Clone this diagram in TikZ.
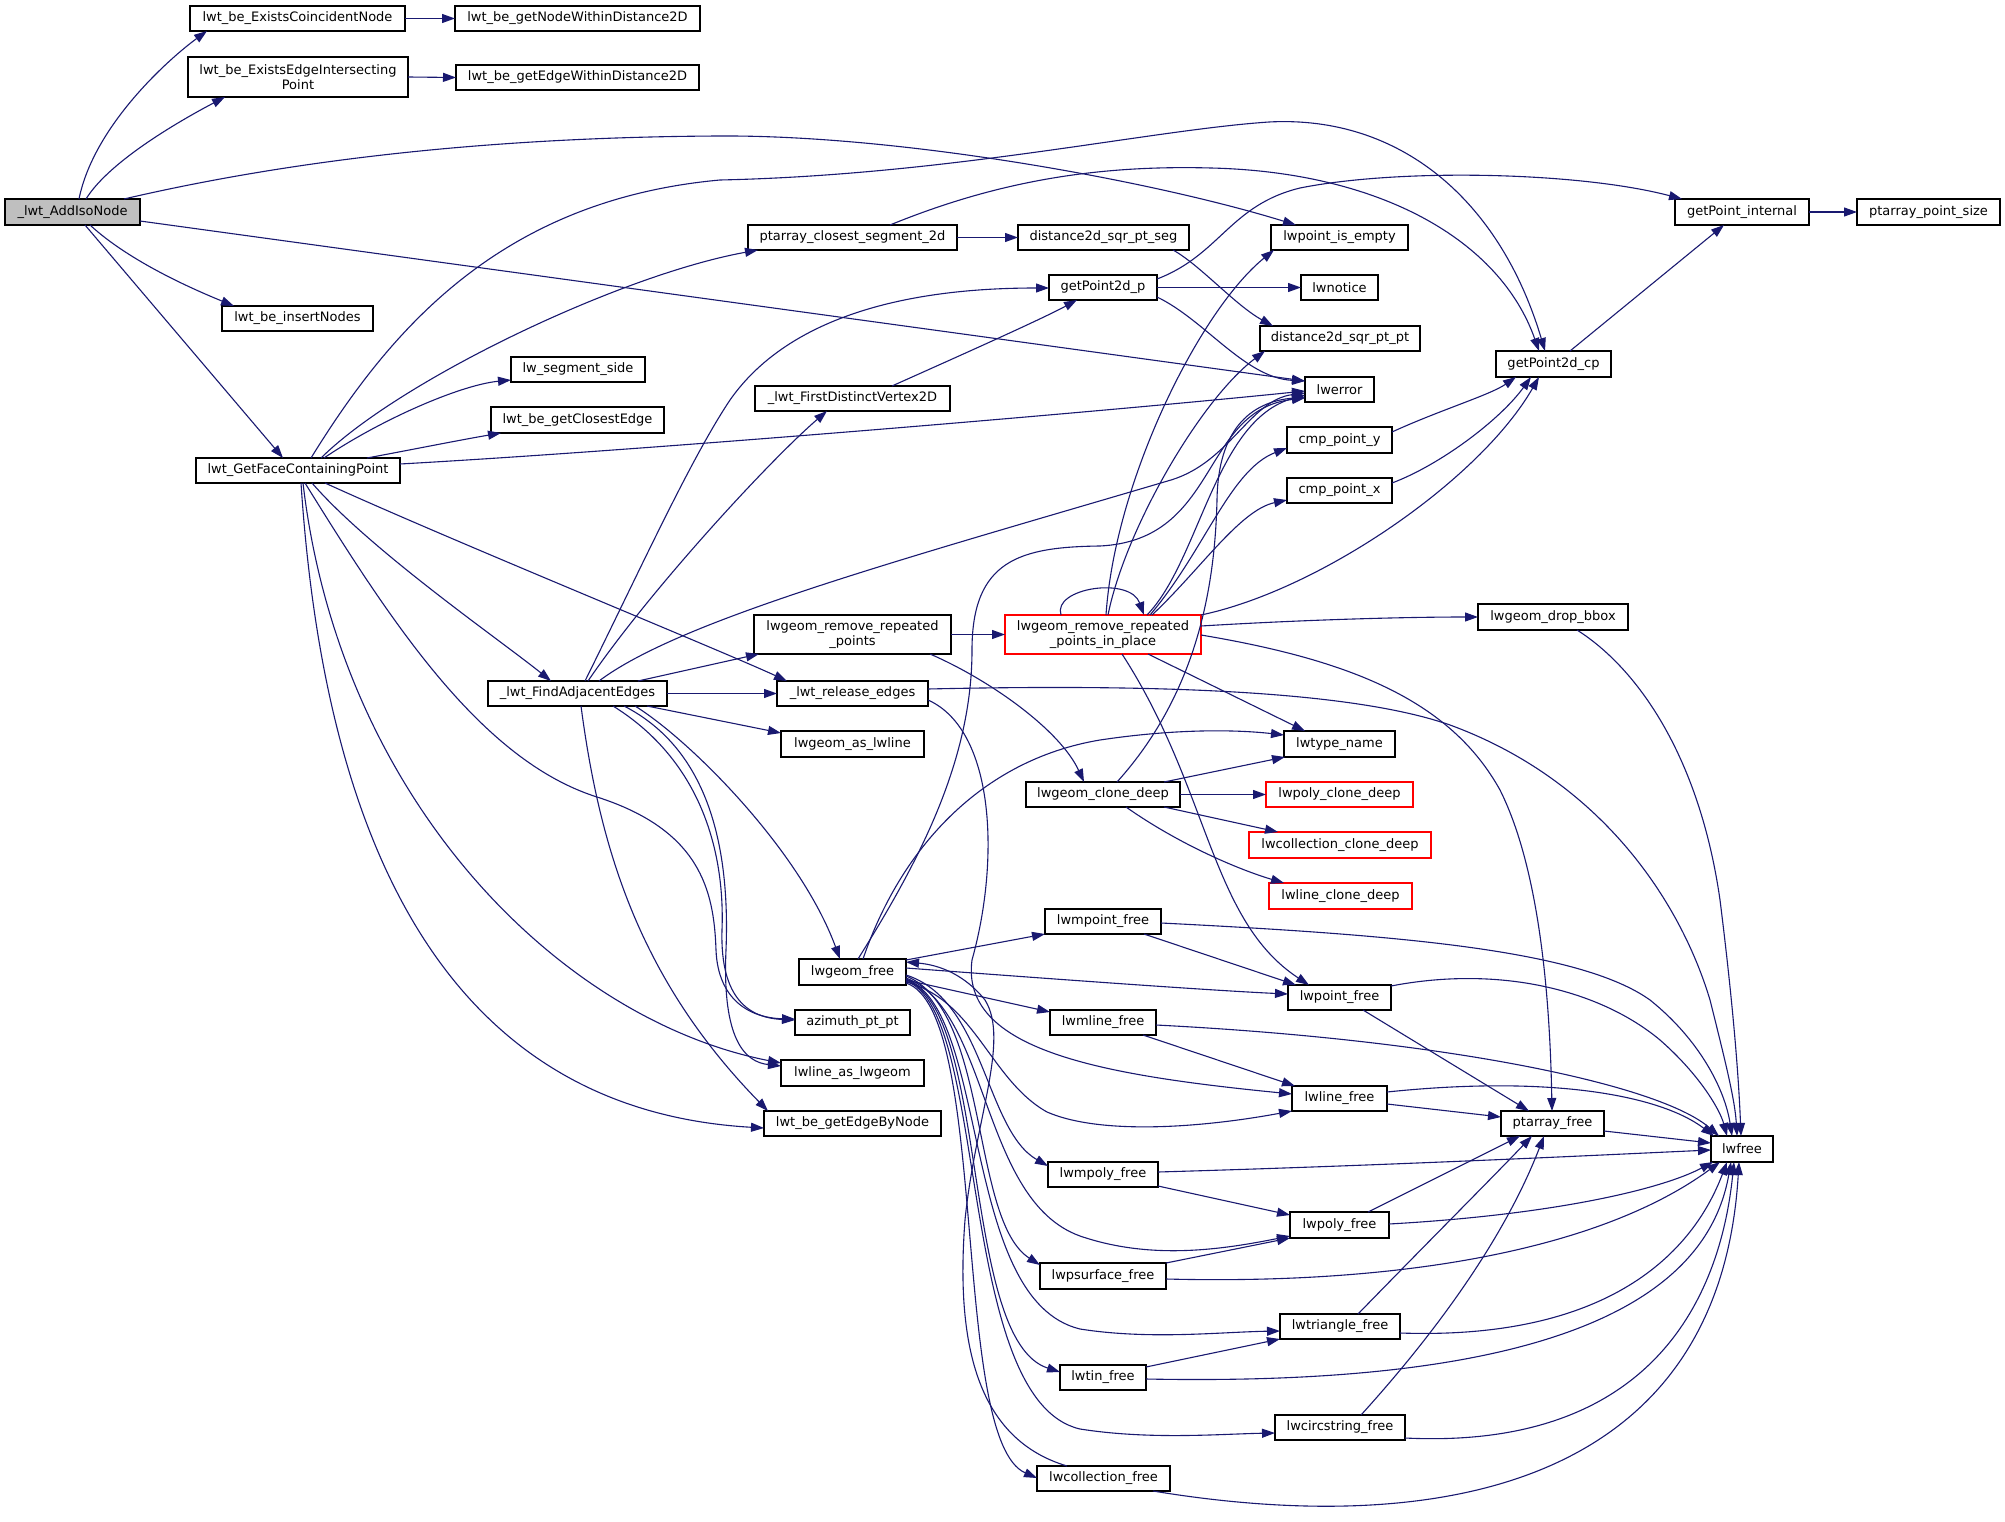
\documentclass[tikz,border=0pt]{standalone}
\usepackage{fontspec}
\newfontfamily\lbl{DejaVu Sans}
\usetikzlibrary{arrows.meta,calc}
\definecolor{ecol}{HTML}{191970}
\definecolor{ngray}{HTML}{BFBFBF}
\definecolor{nred}{HTML}{FF0000}
\begin{document}
\begin{tikzpicture}[x=1pt,y=-1pt,
 nbox/.style={draw=black, line width=1.1pt, fill=white, inner sep=0pt, outer sep=0pt, align=center, font=\lbl\fontsize{13}{15.5}\selectfont},
 redbox/.style={nbox, draw=nred},
 edg/.style={draw=ecol, line width=1.1pt, -{Triangle[length=13pt,width=9pt]}}]
\useasboundingbox[fill=white] (0,0) rectangle (2005,1522);
% nodes
\node[nbox,fill=ngray,minimum width=135,minimum height=26] (addiso) at (72.5,212) {\_lwt\_AddIsoNode};
\node[nbox,minimum width=215,minimum height=25] (coinc) at (297.5,18.5) {lwt\_be\_ExistsCoincidentNode};
\node[nbox,minimum width=245,minimum height=25] (nodewd) at (577.5,18.5) {lwt\_be\_getNodeWithinDistance2D};
\node[nbox,minimum width=220,minimum height=40] (edgeint) at (298,77) {lwt\_be\_ExistsEdgeIntersecting\\Point};
\node[nbox,minimum width=243,minimum height=25] (edgewd) at (577.5,77.5) {lwt\_be\_getEdgeWithinDistance2D};
\node[nbox,minimum width=151,minimum height=25] (insnodes) at (297.5,318.5) {lwt\_be\_insertNodes};
\node[nbox,minimum width=204,minimum height=25] (getface) at (298,470.5) {lwt\_GetFaceContainingPoint};
\node[nbox,minimum width=134,minimum height=25] (segside) at (578,369.5) {lw\_segment\_side};
\node[nbox,minimum width=173,minimum height=26] (closest) at (577.5,420) {lwt\_be\_getClosestEdge};
\node[nbox,minimum width=209,minimum height=25] (ptclos) at (852.5,237.5) {ptarray\_closest\_segment\_2d};
\node[nbox,minimum width=171,minimum height=25] (dseg) at (1103.5,237.5) {distance2d\_sqr\_pt\_seg};
\node[nbox,minimum width=137,minimum height=25] (isempty) at (1339.5,237.5) {lwpoint\_is\_empty};
\node[nbox,minimum width=108,minimum height=25] (gp2dp) at (1103,287.5) {getPoint2d\_p};
\node[nbox,minimum width=77,minimum height=25] (notice) at (1339.5,287.5) {lwnotice};
\node[nbox,minimum width=160,minimum height=25] (dpp) at (1340,338.5) {distance2d\_sqr\_pt\_pt};
\node[nbox,minimum width=69,minimum height=25] (lwerror) at (1339.5,389.5) {lwerror};
\node[nbox,minimum width=195,minimum height=25] (firstv) at (852.5,398.5) {\_lwt\_FirstDistinctVertex2D};
\node[nbox,minimum width=105,minimum height=26] (cmpy) at (1339.5,440) {cmp\_point\_y};
\node[nbox,minimum width=105,minimum height=25] (cmpx) at (1339.5,490.5) {cmp\_point\_x};
\node[nbox,minimum width=134,minimum height=26] (gpint) at (1742,212) {getPoint\_internal};
\node[nbox,minimum width=143,minimum height=26] (ptsize) at (1928.5,212) {ptarray\_point\_size};
\node[nbox,minimum width=115,minimum height=26] (gp2dcp) at (1553.5,364) {getPoint2d\_cp};
\node[nbox,minimum width=179,minimum height=25] (adj) at (577.5,693.5) {\_lwt\_FindAdjacentEdges};
\node[nbox,minimum width=197,minimum height=39] (rrp) at (852.5,634.5) {lwgeom\_remove\_repeated\\\_points};
\node[redbox,minimum width=196,minimum height=39] (rrpip) at (1103,634.5) {lwgeom\_remove\_repeated\\\_points\_in\_place};
\node[nbox,minimum width=151,minimum height=25] (release) at (852.5,693.5) {\_lwt\_release\_edges};
\node[nbox,minimum width=143,minimum height=26] (asline) at (852.5,744) {lwgeom\_as\_lwline};
\node[nbox,minimum width=111,minimum height=26] (typename) at (1339.5,744) {lwtype\_name};
\node[nbox,minimum width=154,minimum height=25] (clone) at (1103,794.5) {lwgeom\_clone\_deep};
\node[redbox,minimum width=147,minimum height=25] (polyclone) at (1339.5,794.5) {lwpoly\_clone\_deep};
\node[redbox,minimum width=182,minimum height=26] (collclone) at (1340,845) {lwcollection\_clone\_deep};
\node[redbox,minimum width=143,minimum height=26] (lineclone) at (1340.5,896) {lwline\_clone\_deep};
\node[nbox,minimum width=116,minimum height=25] (mpointfree) at (1103,921.5) {lwmpoint\_free};
\node[nbox,minimum width=107,minimum height=26] (geomfree) at (852.5,972) {lwgeom\_free};
\node[nbox,minimum width=103,minimum height=25] (pointfree) at (1339.5,997.5) {lwpoint\_free};
\node[nbox,minimum width=150,minimum height=26] (dropbbox) at (1553,617) {lwgeom\_drop\_bbox};
\node[nbox,minimum width=115,minimum height=25] (azimuth) at (852.5,1022.5) {azimuth\_pt\_pt};
\node[nbox,minimum width=143,minimum height=26] (line2geom) at (852.5,1073) {lwline\_as\_lwgeom};
\node[nbox,minimum width=177,minimum height=25] (edgebynode) at (852.5,1123.5) {lwt\_be\_getEdgeByNode};
\node[nbox,minimum width=106,minimum height=25] (mlinefree) at (1103,1022.5) {lwmline\_free};
\node[nbox,minimum width=110,minimum height=25] (mpolyfree) at (1103,1174.5) {lwmpoly\_free};
\node[nbox,minimum width=126,minimum height=26] (psurffree) at (1103,1276) {lwpsurface\_free};
\node[nbox,minimum width=86,minimum height=25] (tinfree) at (1103,1377.5) {lwtin\_free};
\node[nbox,minimum width=133,minimum height=25] (collfree) at (1103.5,1478.5) {lwcollection\_free};
\node[nbox,minimum width=95,minimum height=25] (linefree) at (1339.5,1098.5) {lwline\_free};
\node[nbox,minimum width=103,minimum height=25] (ptfree) at (1552.5,1123.5) {ptarray\_free};
\node[nbox,minimum width=62,minimum height=26] (lwfree) at (1742,1149) {lwfree};
\node[nbox,minimum width=99,minimum height=26] (polyfree) at (1339.5,1225) {lwpoly\_free};
\node[nbox,minimum width=120,minimum height=25] (trifree) at (1340,1326.5) {lwtriangle\_free};
\node[nbox,minimum width=130,minimum height=25] (circfree) at (1340,1427.5) {lwcircstring\_free};
% edges from _lwt_AddIsoNode
\draw[edg] ($(addiso.north west)+(74,0)$) .. controls (94,125) and (170,58) .. ($(coinc.north west)+(17,25)$);
\draw[edg] ($(addiso.north west)+(81,0)$) .. controls (110,160) and (185,118) .. ($(edgeint.north west)+(37,40)$);
\draw[edg] ($(addiso.north west)+(119,0)$) .. controls (300,158) and (500,137) .. (720,136) .. controls (900,135) and (1150,180) .. ($(isempty.north west)+(25,0)$);
\draw[edg] ($(addiso.north west)+(135,22)$) -- ($(lwerror.north west)+(0,4)$);
\draw[edg] ($(addiso.north west)+(85,26)$) .. controls (130,262) and (195,290) .. ($(insnodes.north west)+(12,0)$);
\draw[edg] ($(addiso.north west)+(80,26)$) -- ($(getface.north west)+(87,0)$);
\draw[edg] (coinc.east) -- (nodewd.west);
\draw[edg] (edgeint.east) -- (edgewd.west);
% edges from lwt_GetFaceContainingPoint
\draw[edg] ($(getface.north west)+(115,0)$) .. controls (390,330) and (500,200) .. (720,180) .. controls (950,175) and (1150,130) .. (1269,122) .. controls (1400,115) and (1500,200) .. ($(gp2dcp.north west)+(49,0)$);
\draw[edg] ($(getface.north west)+(125,0)$) .. controls (400,380) and (620,275) .. ($(ptclos.north west)+(10,25)$);
\draw[edg] ($(getface.north west)+(128,0)$) .. controls (380,420) and (460,385) .. ($(segside.north west)+(0,23)$);
\draw[edg] ($(getface.north west)+(171,0)$) .. controls (410,450) and (460,440) .. ($(closest.north west)+(10,26)$);
\draw[edg] ($(getface.north west)+(204,6)$) .. controls (650,450) and (1100,412) .. ($(lwerror.north west)+(0,14)$);
\draw[edg] ($(getface.north west)+(129,25)$) .. controls (450,540) and (720,650) .. ($(release.north west)+(10,0)$);
\draw[edg] ($(getface.north west)+(116,25)$) .. controls (370,550) and (500,640) .. ($(adj.north west)+(63,0)$);
\draw[edg] ($(getface.north west)+(109,25)$) .. controls (390,620) and (480,760) .. (597,797) .. controls (700,830) and (714,890) .. (716,950) .. controls (718,1000) and (750,1018) .. ($(azimuth.north west)+(0,9)$);
\draw[edg] ($(getface.north west)+(107,25)$) .. controls (340,800) and (560,1020) .. ($(line2geom.north west)+(0,3)$);
\draw[edg] ($(getface.north west)+(105,25)$) .. controls (325,850) and (450,1110) .. ($(edgebynode.north west)+(0,17)$);
% edges from _lwt_FindAdjacentEdges
\draw[edg] ($(adj.north west)+(97,0)$) .. controls (640,570) and (690,460) .. (730,400) .. controls (800,300) and (950,288) .. ($(gp2dp.north west)+(0,13)$);
\draw[edg] ($(adj.north west)+(100,0)$) .. controls (650,590) and (770,460) .. ($(firstv.north west)+(72,25)$);
\draw[edg] ($(adj.north west)+(111,0)$) .. controls (680,620) and (900,560) .. (1171,480) .. controls (1230,462) and (1250,400) .. ($(lwerror.north west)+(0,16)$);
\draw[edg] ($(adj.north west)+(150,0)$) -- ($(rrp.north west)+(5,39)$);
\draw[edg] (adj.east) -- (release.west);
\draw[edg] ($(adj.north west)+(159,25)$) -- ($(asline.north west)+(0,2)$);
\draw[edg] ($(adj.north west)+(147,25)$) .. controls (690,740) and (800,850) .. ($(geomfree.north west)+(41,0)$);
\draw[edg] ($(adj.north west)+(93,25)$) .. controls (600,850) and (640,980) .. ($(edgebynode.north west)+(4,0)$);
\draw[edg] ($(adj.north west)+(125,25)$) .. controls (700,760) and (725,850) .. (722,930) .. controls (720,1000) and (750,1018) .. ($(azimuth.north west)+(0,10)$);
\draw[edg] ($(adj.north west)+(136,25)$) .. controls (710,750) and (730,850) .. (726,950) .. controls (722,1040) and (745,1062) .. ($(line2geom.north west)+(0,6)$);
% ptarray_closest_segment_2d etc.
\draw[edg] (ptclos.east) -- (dseg.west);
\draw[edg] ($(ptclos.north west)+(142,0)$) .. controls (1000,180) and (1100,165) .. (1211,168) .. controls (1380,172) and (1500,240) .. ($(gp2dcp.north west)+(43,0)$);
\draw[edg] ($(dseg.north west)+(155,25)$) .. controls (1200,265) and (1235,305) .. ($(dpp.north west)+(13,0)$);
\draw[edg] (gp2dp.east) -- (notice.west);
\draw[edg] ($(gp2dp.north west)+(108,22)$) .. controls (1205,320) and (1245,378) .. ($(lwerror.north west)+(0,4)$);
\draw[edg] ($(gp2dp.north west)+(108,4)$) .. controls (1220,255) and (1230,205) .. (1300,188) .. controls (1400,168) and (1580,172) .. ($(gpint.north west)+(7,0)$);
\draw[edg] ($(firstv.north west)+(137,0)$) .. controls (950,360) and (1040,320) .. ($(gp2dp.north west)+(28,25)$);
\draw[edg] ($(gp2dcp.north west)+(74,0)$) -- ($(gpint.north west)+(49,26)$);
\draw[edg] (gpint.east) -- (ptsize.west);
\draw[edg] ($(cmpy.north west)+(105,5)$) .. controls (1440,410) and (1490,395) .. ($(gp2dcp.north west)+(20,26)$);
\draw[edg] ($(cmpx.north west)+(105,5)$) .. controls (1440,465) and (1500,420) .. ($(gp2dcp.north west)+(35,26)$);
% lwgeom_remove_repeated_points
\draw[edg] (rrp.east) -- (rrpip.west);
\draw[edg] ($(rrp.north west)+(176,39)$) .. controls (990,680) and (1060,730) .. ($(clone.north west)+(58,0)$);
% lwgeom_remove_repeated_points_in_place
\draw[edg] ($(rrpip.north west)+(56,0)$) .. controls (1052,588) and (1130,576) .. ($(rrpip.north west)+(139,0)$);
\draw[edg] ($(rrpip.north west)+(142,0)$) .. controls (1200,560) and (1215,420) .. ($(lwerror.north west)+(0,18)$);
\draw[edg] ($(rrpip.north west)+(145,0)$) .. controls (1205,550) and (1230,470) .. ($(cmpy.north west)+(0,21)$);
\draw[edg] ($(rrpip.north west)+(147,0)$) .. controls (1200,570) and (1240,510) .. ($(cmpx.north west)+(0,22)$);
\draw[edg] ($(rrpip.north west)+(103,0)$) .. controls (1125,530) and (1200,400) .. ($(dpp.north west)+(5,25)$);
\draw[edg] ($(rrpip.north west)+(101,0)$) .. controls (1115,480) and (1200,310) .. ($(isempty.north west)+(3,25)$);
\draw[edg] ($(rrpip.north west)+(196,0)$) .. controls (1320,590) and (1480,480) .. ($(gp2dcp.north west)+(43,26)$);
\draw[edg] ($(rrpip.north west)+(196,11)$) .. controls (1300,620) and (1400,617) .. (dropbbox.west);
\draw[edg] ($(rrpip.north west)+(196,20)$) .. controls (1350,660) and (1450,700) .. (1500,790) .. controls (1540,870) and (1550,1000) .. ($(ptfree.north west)+(51,0)$);
\draw[edg] ($(rrpip.north west)+(143,39)$) -- ($(typename.north west)+(21,0)$);
\draw[edg] ($(rrpip.north west)+(117,39)$) .. controls (1210,790) and (1210,920) .. ($(pointfree.north west)+(21,0)$);
% _lwt_release_edges
\draw[edg] ($(release.north west)+(151,8)$) .. controls (1150,684) and (1350,690) .. (1450,725) .. controls (1600,780) and (1680,900) .. (1710,1000) .. controls (1725,1060) and (1735,1100) .. ($(lwfree.north west)+(26,0)$);
\draw[edg] ($(release.north west)+(151,19)$) .. controls (995,730) and (1000,860) .. (972,960) .. controls (960,1050) and (1100,1075) .. ($(linefree.north west)+(0,8)$);
% lwgeom_clone_deep
\draw[edg] ($(clone.north west)+(138,0)$) -- ($(typename.north west)+(1,26)$);
\draw[edg] (clone.east) -- (polyclone.west);
\draw[edg] ($(clone.north west)+(138,25)$) -- ($(collclone.north west)+(29,0)$);
\draw[edg] ($(clone.north west)+(100,25)$) .. controls (1180,845) and (1240,870) .. ($(lineclone.north west)+(15,0)$);
\draw[edg] ($(clone.north west)+(91,0)$) .. controls (1200,690) and (1215,580) .. (1217,500) .. controls (1218,430) and (1250,402) .. ($(lwerror.north west)+(0,20)$);
% lwgeom_drop_bbox
\draw[edg] ($(dropbbox.north west)+(99,26)$) .. controls (1640,670) and (1700,760) .. (1720,900) .. controls (1730,980) and (1738,1060) .. ($(lwfree.north west)+(30,0)$);
% lwgeom_free
\draw[edg] ($(geomfree.north west)+(59,0)$) .. controls (920,860) and (972,760) .. (972,650) .. controls (972,560) and (1020,547) .. (1100,546) .. controls (1220,540) and (1200,410) .. ($(lwerror.north west)+(0,21)$);
\draw[edg] ($(geomfree.north west)+(64,0)$) .. controls (900,850) and (980,760) .. (1100,740) .. controls (1180,728) and (1240,730) .. ($(typename.north west)+(0,4)$);
\draw[edg] ($(geomfree.north west)+(107,1)$) -- ($(mpointfree.north west)+(0,25)$);
\draw[edg] ($(geomfree.north west)+(107,9)$) .. controls (1000,975) and (1200,990) .. ($(pointfree.north west)+(0,9)$);
\draw[edg] ($(geomfree.north west)+(107,21)$) -- ($(mlinefree.north west)+(0,2)$);
\draw[edg] ($(geomfree.north west)+(107,23)$) .. controls (975,1000) and (990,1080) .. (1047,1112) .. controls (1100,1135) and (1200,1128) .. ($(linefree.north west)+(0,25)$);
\draw[edg] ($(geomfree.north west)+(107,16)$) .. controls (985,1000) and (985,1130) .. ($(mpolyfree.north west)+(0,4)$);
\draw[edg] ($(geomfree.north west)+(107,19)$) .. controls (990,1010) and (980,1200) .. (1080,1236) .. controls (1150,1260) and (1220,1250) .. ($(polyfree.north west)+(0,24)$);
\draw[edg] ($(geomfree.north west)+(107,17)$) .. controls (990,1010) and (970,1220) .. ($(psurffree.north west)+(0,2)$);
\draw[edg] ($(geomfree.north west)+(107,20)$) .. controls (990,1010) and (960,1300) .. (1080,1329) .. controls (1150,1340) and (1220,1332) .. ($(trifree.north west)+(0,17)$);
\draw[edg] ($(geomfree.north west)+(107,21)$) .. controls (990,1010) and (960,1340) .. ($(tinfree.north west)+(0,7)$);
\draw[edg] ($(geomfree.north west)+(107,22)$) .. controls (990,1010) and (955,1400) .. (1080,1429) .. controls (1150,1440) and (1220,1434) .. ($(circfree.north west)+(0,18)$);
\draw[edg] ($(geomfree.north west)+(107,24)$) .. controls (990,1010) and (950,1440) .. ($(collfree.north west)+(0,12)$);
\draw[edg] ($(collfree.north west)+(30,0)$) .. controls (980,1440) and (955,1350) .. (965,1220) .. controls (975,1120) and (1010,1040) .. (985,1000) .. controls (965,975) and (940,965) .. ($(geomfree.north west)+(107,3)$);
% lwmpoint_free, lwpoint_free
\draw[edg] ($(mpointfree.north west)+(99,25)$) -- ($(pointfree.north west)+(8,0)$);
\draw[edg] ($(mpointfree.north west)+(116,14)$) .. controls (1400,935) and (1580,950) .. (1650,1000) .. controls (1700,1040) and (1725,1090) .. ($(lwfree.north west)+(21,0)$);
\draw[edg] ($(pointfree.north west)+(103,1)$) .. controls (1500,965) and (1600,990) .. (1660,1040) .. controls (1700,1075) and (1720,1110) .. ($(lwfree.north west)+(16,0)$);
\draw[edg] ($(pointfree.north west)+(75,25)$) -- ($(ptfree.north west)+(28,0)$);
% multi frees
\draw[edg] ($(mlinefree.north west)+(93,25)$) -- ($(linefree.north west)+(3,0)$);
\draw[edg] ($(mlinefree.north west)+(106,15)$) .. controls (1450,1040) and (1660,1085) .. ($(lwfree.north west)+(8,0)$);
\draw[edg] ($(linefree.north west)+(95,6)$) .. controls (1550,1075) and (1660,1095) .. ($(lwfree.north west)+(3,0)$);
\draw[edg] ($(linefree.north west)+(95,18)$) -- ($(ptfree.north west)+(0,6)$);
\draw[edg] ($(ptfree.north west)+(103,20)$) -- ($(lwfree.north west)+(0,7)$);
\draw[edg] ($(mpolyfree.north west)+(110,24)$) -- ($(polyfree.north west)+(0,3)$);
\draw[edg] ($(mpolyfree.north west)+(110,10)$) .. controls (1400,1165) and (1600,1155) .. ($(lwfree.north west)+(0,14)$);
\draw[edg] ($(polyfree.north west)+(78,0)$) -- ($(ptfree.north west)+(19,25)$);
\draw[edg] ($(polyfree.north west)+(99,12)$) .. controls (1550,1215) and (1660,1190) .. ($(lwfree.north west)+(2,26)$);
\draw[edg] ($(psurffree.north west)+(126,0)$) -- ($(polyfree.north west)+(0,26)$);
\draw[edg] ($(psurffree.north west)+(126,16)$) .. controls (1400,1285) and (1600,1250) .. ($(lwfree.north west)+(9,26)$);
\draw[edg] ($(trifree.north west)+(78,0)$) .. controls (1430,1240) and (1490,1180) .. ($(ptfree.north west)+(31,25)$);
\draw[edg] ($(trifree.north west)+(120,19)$) .. controls (1600,1340) and (1690,1260) .. ($(lwfree.north west)+(16,26)$);
\draw[edg] ($(tinfree.north west)+(86,2)$) -- ($(trifree.north west)+(0,25)$);
\draw[edg] ($(tinfree.north west)+(86,14)$) .. controls (1450,1385) and (1700,1340) .. ($(lwfree.north west)+(20,26)$);
\draw[edg] ($(circfree.north west)+(86,0)$) .. controls (1420,1350) and (1500,1250) .. ($(ptfree.north west)+(43,25)$);
\draw[edg] ($(circfree.north west)+(130,23)$) .. controls (1650,1450) and (1720,1300) .. ($(lwfree.north west)+(23,26)$);
\draw[edg] ($(collfree.north west)+(116,25)$) .. controls (1450,1540) and (1720,1480) .. ($(lwfree.north west)+(28,26)$);
\end{tikzpicture}
\end{document}
